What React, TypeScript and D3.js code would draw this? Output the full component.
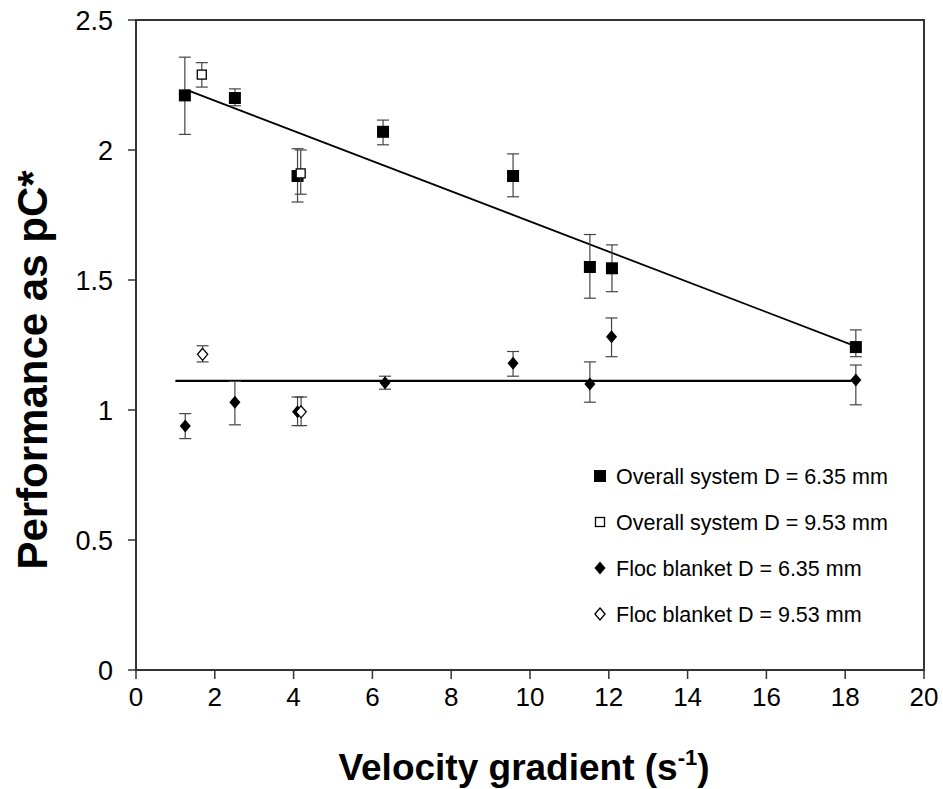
import React from "react";
import * as d3 from "d3";

const overall635X = [1.24, 2.51, 4.1, 6.27, 9.57, 11.52, 12.08, 18.27];
const overall635Y = [2.21, 2.2, 1.9, 2.07, 1.9, 1.55, 1.545, 1.242];
const overall635Lo = [2.06, 2.17, 1.8, 2.02, 1.82, 1.43, 1.455, 1.205];
const overall635Hi = [2.357, 2.235, 2.005, 2.115, 1.985, 1.675, 1.635, 1.308];

const overall953X = [1.67, 4.18];
const overall953Y = [2.29, 1.91];
const overall953Lo = [2.242, 1.83];
const overall953Hi = [2.336, 2.0];

const floc635X = [1.25, 2.51, 4.1, 6.32, 9.57, 11.52, 12.07, 18.27];
const floc635Y = [0.938, 1.03, 0.993, 1.105, 1.18, 1.1, 1.282, 1.115];
const floc635Lo = [0.89, 0.943, 0.94, 1.08, 1.13, 1.03, 1.205, 1.02];
const floc635Hi = [0.986, 1.11, 1.05, 1.13, 1.225, 1.185, 1.354, 1.173];

const floc953X = [1.69, 4.19];
const floc953Y = [1.214, 0.993];
const floc953Lo = [1.185, 0.94];
const floc953Hi = [1.247, 1.05];

const trendOverallX = [1.3, 18.27];
const trendOverallY = [2.23, 1.245];
const trendFlocX = [1.0, 18.27];
const trendFlocY = [1.112, 1.112];

const xTicks = [0, 2, 4, 6, 8, 10, 12, 14, 16, 18, 20];
const yTicks = [0, 0.5, 1, 1.5, 2, 2.5];

const legendLabels = [
  "Overall system D = 6.35 mm",
  "Overall system D = 9.53 mm",
  "Floc blanket D = 6.35 mm",
  "Floc blanket D = 9.53 mm",
];

const W = 943;
const H = 789;
const x = d3.scaleLinear().domain([0, 20]).range([136, 924]);
const y = d3.scaleLinear().domain([0, 2.5]).range([670, 20]);

const FONT = "Arial, 'Liberation Sans', sans-serif";

type MarkerKind = "sq" | "osq" | "dia" | "odia";

function Marker({ kind, cx, cy }: { kind: MarkerKind; cx: number; cy: number }) {
  if (kind === "sq") return <rect x={cx - 6} y={cy - 6} width={12} height={12} fill="#000" />;
  if (kind === "osq")
    return <rect x={cx - 4.5} y={cy - 4.5} width={9} height={9} fill="#fff" stroke="#000" strokeWidth={1.3} />;
  const r = kind === "dia" ? 6.5 : 6;
  const p = `M${cx},${cy - r}L${cx + r * 0.85},${cy}L${cx},${cy + r}L${cx - r * 0.85},${cy}Z`;
  if (kind === "dia") return <path d={p} fill="#000" />;
  return <path d={p} fill="#fff" stroke="#000" strokeWidth={1.3} />;
}

function Series({ xs, ys, lo, hi, kind }: { xs: number[]; ys: number[]; lo: number[]; hi: number[]; kind: MarkerKind }) {
  return (
    <g>
      {xs.map((v, i) => {
        const px = x(v);
        return (
          <g key={i}>
            <line x1={px} x2={px} y1={y(lo[i])} y2={y(hi[i])} stroke="#444" strokeWidth={1.2} />
            <line x1={px - 6} x2={px + 6} y1={y(lo[i])} y2={y(lo[i])} stroke="#444" strokeWidth={1.2} />
            <line x1={px - 6} x2={px + 6} y1={y(hi[i])} y2={y(hi[i])} stroke="#444" strokeWidth={1.2} />
          </g>
        );
      })}
      {xs.map((v, i) => (
        <Marker key={"m" + i} kind={kind} cx={x(v)} cy={y(ys[i])} />
      ))}
    </g>
  );
}

export default function App() {
  const line = d3
    .line<[number, number]>()
    .x((d) => x(d[0]))
    .y((d) => y(d[1]));
  const t1 = line(trendOverallX.map((v, i) => [v, trendOverallY[i]] as [number, number])) || "";
  const t2 = line(trendFlocX.map((v, i) => [v, trendFlocY[i]] as [number, number])) || "";
  const kinds: MarkerKind[] = ["sq", "osq", "dia", "odia"];
  return (
    <svg width={W} height={H} style={{ position: "absolute", left: 0, top: 0, background: "#fff" }} fontFamily={FONT}>
      <rect width={W} height={H} fill="#fff" />
      <rect x={136} y={20} width={788} height={650} fill="none" stroke="#333" strokeWidth={2} />
      {yTicks.map((t) => (
        <g key={"y" + t}>
          <line x1={128} x2={136} y1={y(t)} y2={y(t)} stroke="#333" strokeWidth={1.5} />
          <text x={113} y={y(t)} dy="0.36em" textAnchor="end" fontSize={27} fill="#000">
            {t}
          </text>
        </g>
      ))}
      {xTicks.map((t) => (
        <g key={"x" + t}>
          <line x1={x(t)} x2={x(t)} y1={670} y2={679} stroke="#333" strokeWidth={1.5} />
          <text x={x(t)} y={706} textAnchor="middle" fontSize={26} fill="#000">
            {t}
          </text>
        </g>
      ))}
      <path d={t1} stroke="#000" strokeWidth={1.8} fill="none" />
      <path d={t2} stroke="#000" strokeWidth={2.2} fill="none" />
      <Series xs={overall635X} ys={overall635Y} lo={overall635Lo} hi={overall635Hi} kind="sq" />
      <Series xs={overall953X} ys={overall953Y} lo={overall953Lo} hi={overall953Hi} kind="osq" />
      <Series xs={floc635X} ys={floc635Y} lo={floc635Lo} hi={floc635Hi} kind="dia" />
      <Series xs={floc953X} ys={floc953Y} lo={floc953Lo} hi={floc953Hi} kind="odia" />
      {legendLabels.map((l, i) => {
        const cy = 476 + i * 46;
        return (
          <g key={l}>
            <Marker kind={kinds[i]} cx={600} cy={cy} />
            <text x={616} y={cy} dy="0.36em" fontSize={21.5} fill="#000">
              {l}
            </text>
          </g>
        );
      })}
      <text x={524} y={780} textAnchor="middle" fontSize={37} fontWeight="bold" fill="#000">
        Velocity gradient (s
        <tspan fontSize={22} dy={-15}>-1</tspan>
        <tspan dy={15}>)</tspan>
      </text>
      <text
        transform={`translate(47,370) rotate(-90)`}
        textAnchor="middle"
        fontSize={42}
        fontWeight="bold"
        fill="#000"
      >
        Performance as pC*
      </text>
    </svg>
  );
}
